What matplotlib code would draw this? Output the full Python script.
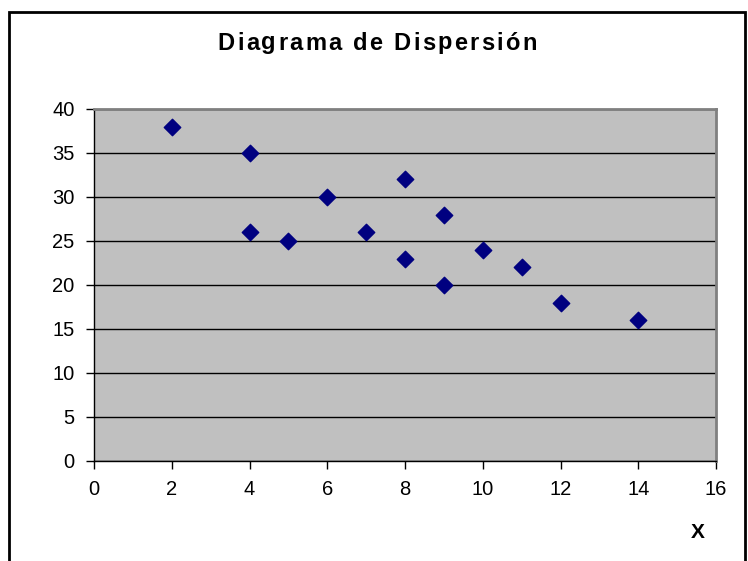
import matplotlib
matplotlib.use("Agg")
import matplotlib.pyplot as plt
from matplotlib.patches import Rectangle
from matplotlib.textpath import TextPath
from matplotlib.font_manager import FontProperties

x_values = [2, 4, 4, 5, 6, 7, 8, 8, 9, 9, 10, 11, 12, 14]
y_values = [38, 35, 26, 25, 30, 26, 32, 23, 28, 20, 24, 22, 18, 16]
x_ticks = [0, 2, 4, 6, 8, 10, 12, 14, 16]
y_ticks = [0, 5, 10, 15, 20, 25, 30, 35, 40]
title = "Diagrama de Dispersión"
x_label = "X"

W, H = 748, 561
fig = plt.figure(figsize=(W / 100, H / 100), dpi=100)
fig.patch.set_facecolor("white")

# chart-area frame
fig.patches.append(Rectangle((9 / W, -0.1), (745 - 9) / W, 1.1 - 12 / H,
                             transform=fig.transFigure, fill=False,
                             edgecolor="black", linewidth=2.0))

left, right, top, bottom = 94, 716, 109, 461
ax = fig.add_axes([left / W, 1 - bottom / H, (right - left) / W, (bottom - top) / H])
ax.set_facecolor("#C0C0C0")
ax.set_xlim(0, 16)
ax.set_ylim(0, 40)
ax.set_xticks(x_ticks)
ax.set_yticks(y_ticks)
ax.yaxis.grid(True, color="black", linewidth=1.0)
ax.set_axisbelow(True)

for s in ("top", "right"):
    ax.spines[s].set_color("#808080")
    ax.spines[s].set_linewidth(2.0)
for s in ("left", "bottom"):
    ax.spines[s].set_color("black")
    ax.spines[s].set_linewidth(1.0)

base_font = ["Liberation Sans", "DejaVu Sans"]
ax.tick_params(direction="out", length=6, width=1, color="black",
               labelsize=14.5, pad=8)
for lab in ax.get_xticklabels() + ax.get_yticklabels():
    lab.set_family(base_font)

ax.scatter(x_values, y_values, marker="D", s=70, color="#000080",
           edgecolors="#000080", zorder=3, clip_on=False)

# letter-spaced title, each glyph placed one after another
title_size = 17
spacing_px = 2.3
fp = FontProperties(family="Liberation Sans", weight="bold", size=title_size)
px_per_pt = 100 / 72
bar = TextPath((0, 0), "|", prop=fp).get_extents().width
advances = []
prev = 0.0
for i in range(len(title)):
    full = TextPath((0, 0), title[: i + 1] + "|", prop=fp).get_extents().width - bar
    advances.append(full - prev)
    prev = full
total = sum(a * px_per_pt for a in advances) + spacing_px * (len(title) - 1)
cx, cy = 377, 43
xpos = cx - total / 2
for ch, adv in zip(title, advances):
    fig.text(xpos / W, 1 - cy / H, ch, ha="left", va="center",
             fontsize=title_size, fontweight="bold", family=base_font)
    xpos += adv * px_per_pt + spacing_px

fig.text(698 / W, 1 - 532 / H, x_label, ha="center", va="center",
         fontsize=15, fontweight="bold", family=base_font)

fig.savefig("out.png", dpi=100)
